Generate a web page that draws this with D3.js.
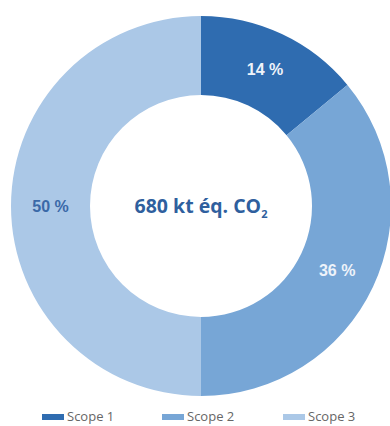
<!DOCTYPE html>
<html>
<head>
<meta charset="utf-8">
<script src="https://cdn.jsdelivr.net/npm/d3@7"></script>
<style>
  html, body { margin: 0; padding: 0; background: #fff; }
  svg { display: block; }
</style>
</head>
<body>
<svg id="chart" width="390" height="426"></svg>
<script>
// Scope 1/2/3 share of total emissions
const scopes = ["Scope 1", "Scope 2", "Scope 3"];
const shares = [14, 36, 50];
const colors = ["#2f6cb0", "#77a6d6", "#abc8e7"];
const labelColors = ["#eef3fa", "#eef3fa", "#3a69a8"];

const width = 390;
const height = 426;
const cx = 201, cy = 206;
const outerR = 190, innerR = 111;

const svg = d3.select("#chart");

const data = scopes.map((s, i) => ({ name: s, value: shares[i] }));

const pie = d3.pie()
    .value(d => d.value)
    .sort(null);

const arc = d3.arc()
    .innerRadius(innerR)
    .outerRadius(outerR);

const g = svg.append("g").attr("transform", `translate(${cx},${cy})`);

g.selectAll("path")
    .data(pie(data))
    .enter()
    .append("path")
    .attr("d", arc)
    .attr("fill", (d, i) => colors[i]);

g.selectAll(".slice-label")
    .data(pie(data))
    .enter()
    .append("text")
    .attr("class", "slice-label")
    .attr("transform", d => `translate(${arc.centroid(d)})`)
    .attr("text-anchor", "middle")
    .attr("dy", "0.35em")
    .style("font-family", "'Liberation Sans', Arial, sans-serif")
    .style("font-weight", "bold")
    .style("font-size", "16px")
    .attr("fill", (d, i) => labelColors[i])
    .text(d => d.data.value + " %");

// total in the middle
const total = g.append("text")
    .attr("text-anchor", "middle")
    .attr("y", 7)
    .style("font-family", "'Open Sans', sans-serif")
    .style("font-weight", "700")
    .style("font-size", "19.5px")
    .attr("fill", "#2f5f9e");
total.append("tspan").text("680 kt éq. CO");
total.append("tspan")
    .attr("dy", 5)
    .style("font-size", "11px")
    .text("2");

// legend
const legendX = [42, 162, 283];
const legend = svg.append("g").attr("transform", "translate(0,416)");

const item = legend.selectAll("g")
    .data(data)
    .enter()
    .append("g")
    .attr("transform", (d, i) => `translate(${legendX[i]},0)`);

item.append("rect")
    .attr("x", 0)
    .attr("y", -2)
    .attr("width", 22)
    .attr("height", 6)
    .attr("fill", (d, i) => colors[i]);

item.append("text")
    .attr("x", 25)
    .attr("dy", "0.35em")
    .style("font-family", "'Open Sans', sans-serif")
    .style("font-size", "13px")
    .attr("fill", "#666")
    .text(d => d.name);
</script>
</body>
</html>
